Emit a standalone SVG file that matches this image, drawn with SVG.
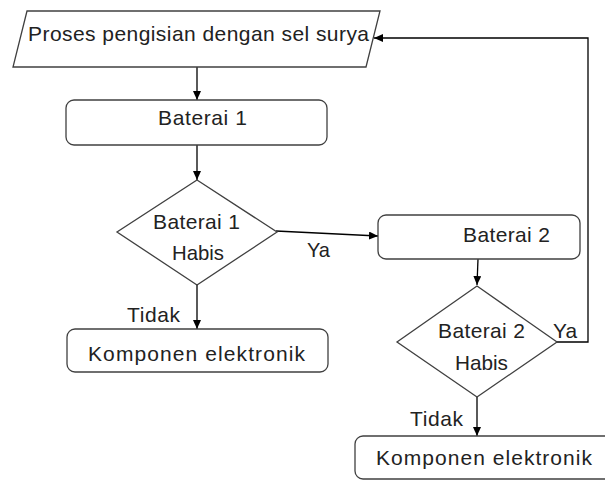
<svg xmlns="http://www.w3.org/2000/svg" width="605" height="481" viewBox="0 0 605 481">
<style>
.shape{fill:#fff;stroke:#404040;stroke-width:1.3}
.conn{fill:none;stroke:#000;stroke-width:1.3}
text{font-family:"Liberation Sans",Arial,sans-serif;font-size:21px;fill:#222}
</style>
<defs>
<marker id="ah" markerWidth="10" markerHeight="8" refX="9" refY="4" orient="auto" markerUnits="userSpaceOnUse">
<path d="M0,0 L9,4 L0,8 Z" fill="#000"/>
</marker>
</defs>
<rect width="605" height="481" fill="#fff"/>
<g id="connectors">
<line class="conn" x1="197" y1="67" x2="197" y2="100" marker-end="url(#ah)"/>
<line class="conn" x1="197" y1="145" x2="197" y2="180" marker-end="url(#ah)"/>
<line class="conn" x1="276" y1="231" x2="378" y2="236" marker-end="url(#ah)"/>
<line class="conn" x1="478" y1="259" x2="477" y2="285" marker-end="url(#ah)"/>
<polyline class="conn" points="557,342 588,342 588,38 374,38" marker-end="url(#ah)"/>
<line class="conn" x1="197" y1="285" x2="197" y2="329" marker-end="url(#ah)"/>
<line class="conn" x1="477" y1="397" x2="477" y2="436" marker-end="url(#ah)"/>
<text x="307" y="257" textLength="23" lengthAdjust="spacingAndGlyphs">Ya</text>
<text x="553" y="338" textLength="24" lengthAdjust="spacingAndGlyphs">Ya</text>
<text x="127" y="322" textLength="53" lengthAdjust="spacing">Tidak</text>
<text x="410" y="426" textLength="53" lengthAdjust="spacing">Tidak</text>
</g>
<g id="start">
<polygon class="shape" points="27,11 380,11 366,67 13,67"/>
<text x="28" y="41" textLength="341" lengthAdjust="spacing">Proses pengisian dengan sel surya</text>
</g>
<g id="baterai1">
<rect class="shape" x="66" y="100" width="261" height="45" rx="8"/>
<text x="158" y="125" textLength="89" lengthAdjust="spacing">Baterai 1</text>
</g>
<g id="habis1">
<polygon class="shape" points="197,180 277,232 197,285 117,232"/>
<text x="153" y="229" textLength="87" lengthAdjust="spacing">Baterai 1</text>
<text x="172" y="260" textLength="52" lengthAdjust="spacingAndGlyphs">Habis</text>
</g>
<g id="komponen1">
<rect class="shape" x="67" y="329" width="261" height="43" rx="8"/>
<text x="88" y="361" textLength="217" lengthAdjust="spacing">Komponen elektronik</text>
</g>
<g id="baterai2">
<rect class="shape" x="378" y="215" width="202" height="44" rx="8"/>
<text x="463" y="242" textLength="87" lengthAdjust="spacing">Baterai 2</text>
</g>
<g id="habis2">
<polygon class="shape" points="477,286 557,342 477,397 397,342"/>
<text x="438" y="338" textLength="87" lengthAdjust="spacing">Baterai 2</text>
<text x="455" y="370" textLength="53" lengthAdjust="spacingAndGlyphs">Habis</text>
</g>
<g id="komponen2">
<rect class="shape" x="355" y="436" width="270" height="43" rx="8"/>
<text x="376" y="465" textLength="216" lengthAdjust="spacing">Komponen elektronik</text>
</g>
</svg>
